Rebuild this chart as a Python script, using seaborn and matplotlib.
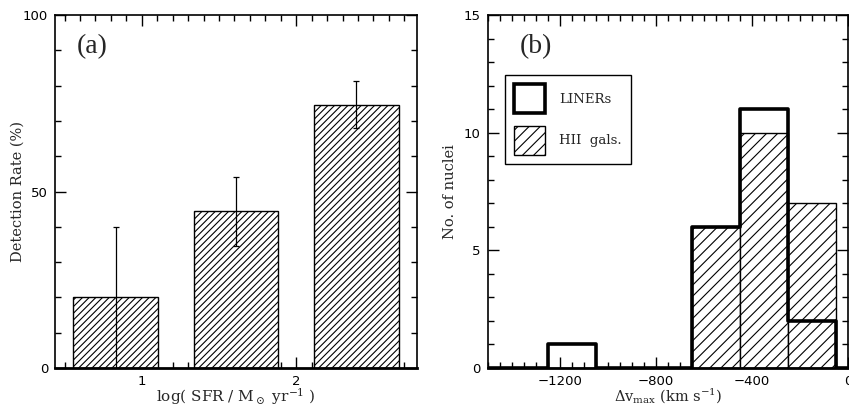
import numpy as np
import pandas as pd
import matplotlib
matplotlib.use("Agg")
import matplotlib.pyplot as plt
import seaborn as sns
from matplotlib.patches import Patch
from matplotlib.ticker import MultipleLocator

# ── Panel (a): detection rate vs SFR ──────────────────────────────────────
sfr_centers = [0.83, 1.61, 2.39]
det_rate    = [20.0, 44.5, 74.6]
err_low     = [0.0, 34.6, 67.9]
err_high    = [40.0, 54.0, 81.3]

# ── Panel (b): velocity histograms ────────────────────────────────────────
bin_edges     = [-1650, -1450, -1250, -1050, -850, -650, -450, -250, -50, 150, 350]
liner_centers = [-1150, -550, -350, -150]
liner_counts  = [1, 6, 11, 2]
hii_centers   = [-550, -350, -150]
hii_counts    = [6, 10, 7]

sns.set_theme(style="ticks")
plt.rcParams["font.family"] = ["DejaVu Serif"]
plt.rcParams["mathtext.fontset"] = "dejavuserif"
plt.rcParams["hatch.linewidth"] = 0.8

TICK_FS = 9.5


def style_axes(ax):
    ax.tick_params(which="both", direction="in", top=True, right=True,
                   colors="black", labelsize=TICK_FS, width=1, pad=5)
    ax.tick_params(which="major", length=8)
    ax.tick_params(which="minor", length=4)
    for s in ax.spines.values():
        s.set_color("black")
        s.set_linewidth(1.2)
    ax.spines["bottom"].set_linewidth(2)
    for lab in ax.get_xticklabels() + ax.get_yticklabels():
        lab.set_family(["DejaVu Sans"])


fig = plt.figure(figsize=(8.49, 4.07), dpi=100)
ax1 = fig.add_axes([0.0648, 0.0958, 0.426, 0.867])
ax2 = fig.add_axes([0.5744, 0.0958, 0.4244, 0.867])

# ── (a) ───────────────────────────────────────────────────────────────────
df_a = pd.DataFrame({"sfr": sfr_centers, "rate": det_rate})
sns.barplot(data=df_a, x="sfr", y="rate", native_scale=True, ax=ax1,
            color="white", edgecolor="black", linewidth=1, hatch="/////",
            width=0.705, errorbar=None, saturation=1)
rate = np.array(det_rate)
yerr = [rate - np.array(err_low), np.array(err_high) - rate]
ax1.errorbar(sfr_centers, det_rate, yerr=yerr, fmt="none", ecolor="black",
             elinewidth=0.9, capsize=2, capthick=0.9)
ax1.set_xlim(0.438, 2.78)
ax1.set_ylim(0, 100)
ax1.xaxis.set_major_locator(MultipleLocator(1))
ax1.xaxis.set_minor_locator(MultipleLocator(0.1))
ax1.yaxis.set_major_locator(MultipleLocator(50))
ax1.yaxis.set_minor_locator(MultipleLocator(10))
ax1.set_xlabel(r"log( SFR / M$_\odot$ yr$^{-1}$ )", fontsize=11, labelpad=-1)
ax1.set_ylabel("Detection Rate (%)", fontsize=10.5)
ax1.yaxis.set_label_coords(-0.085, 0.5)
ax1.text(0.06, 0.91, "(a)", transform=ax1.transAxes, fontsize=20,
         family=["Liberation Serif"], va="center", ha="left")
style_axes(ax1)

# ── (b) ───────────────────────────────────────────────────────────────────
df_hii = pd.DataFrame({"dv": hii_centers, "n": hii_counts})
df_lin = pd.DataFrame({"dv": liner_centers, "n": liner_counts})
sns.histplot(data=df_hii, x="dv", weights="n", bins=bin_edges, ax=ax2,
             element="bars", fill=True, color="white", edgecolor="black",
             linewidth=1, hatch="///", alpha=1)
sns.histplot(data=df_lin, x="dv", weights="n", bins=bin_edges, ax=ax2,
             element="step", fill=False, color="black", linewidth=2.6)
ax2.set_xlim(-1500, 0)
ax2.set_ylim(0, 15)
ax2.xaxis.set_major_locator(MultipleLocator(400))
ax2.xaxis.set_minor_locator(MultipleLocator(50))
ax2.yaxis.set_major_locator(MultipleLocator(5))
ax2.yaxis.set_minor_locator(MultipleLocator(1))
ax2.set_xlabel(r"$\Delta$v$_{\rm max}$ (km s$^{-1}$)", fontsize=10.5, labelpad=-1)
ax2.set_ylabel("No. of nuclei", fontsize=10.5)
ax2.yaxis.set_label_coords(-0.085, 0.5)
ax2.text(0.09, 0.91, "(b)", transform=ax2.transAxes, fontsize=20,
         family=["Liberation Serif"], va="center", ha="left")

handles = [Patch(facecolor="white", edgecolor="black", linewidth=2.6),
           Patch(facecolor="white", edgecolor="black", linewidth=1, hatch="///")]
leg = ax2.legend(handles, ["LINERs", "HII  gals."], loc="upper left",
                 bbox_to_anchor=(0.048, 0.83), fontsize=9.5, fancybox=False,
                 handlelength=2.3, handleheight=3.0, labelspacing=0.95,
                 handletextpad=1.1, borderpad=0.7, borderaxespad=0,
                 framealpha=1)
leg.get_frame().set_edgecolor("black")
leg.get_frame().set_linewidth(1)
style_axes(ax2)

fig.savefig("out.png", dpi=100)
